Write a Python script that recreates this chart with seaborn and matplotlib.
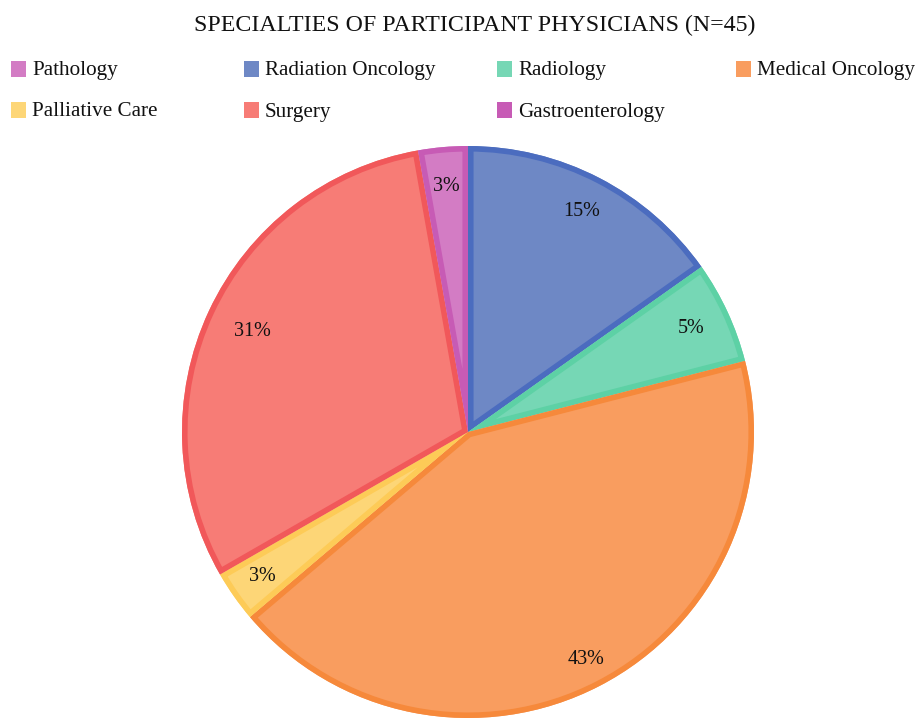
import matplotlib
matplotlib.use("Agg")
import matplotlib.pyplot as plt
import matplotlib.patches as mpatches
import seaborn as sns

sns.set_theme(style="white")
plt.rcParams['font.family'] = ['Liberation Serif', 'DejaVu Serif']

title = "SPECIALTIES OF PARTICIPANT PHYSICIANS (N=45)"
legend_names = ["Pathology", "Radiation Oncology", "Radiology", "Medical Oncology",
                "Palliative Care", "Surgery", "Gastroenterology"]
legend_fills = ["#D37CC4", "#6E88C5", "#76D7B5", "#F99D5F", "#FDD677", "#F77C76", "#C75BB5"]

# pie slices, clockwise from top (shares)
slice_names = ["Radiation Oncology", "Radiology", "Medical Oncology",
               "Palliative Care", "Surgery", "Pathology"]
slice_values = [15.2, 5.8, 42.8, 2.9, 30.5, 2.8]
slice_labels = ["15%", "5%", "43%", "3%", "31%", "3%"]
slice_fills = ["#6E88C5", "#76D7B5", "#F99D5F", "#FDD677", "#F77C76", "#D37CC4"]
slice_edges = ["#4B6CBF", "#5DD1A5", "#F6893B", "#FDCB57", "#F1585A", "#C75BB5"]
label_dist = [0.867, 0.86, 0.895, 0.88, 0.83, 0.86]

W, H = 920, 718
fig = plt.figure(figsize=(W / 100, H / 100), dpi=100)

cx, cy, R = 468, 432, 286
ax = fig.add_axes([(cx - R) / W, (H - cy - R) / H, 2 * R / W, 2 * R / H])
# filled slices
wedges, texts = ax.pie(
    slice_values, colors=slice_fills, startangle=90, counterclock=False,
    labels=slice_labels, labeldistance=1.0, radius=1,
    wedgeprops=dict(linewidth=0, edgecolor='none'),
    textprops=dict(fontsize=14.5, color="#111111", ha='center', va='center'))
# borders drawn inside each slice (clipped to the slice)
borders, _ = ax.pie(
    slice_values, startangle=90, counterclock=False, radius=1,
    wedgeprops=dict(linewidth=8, facecolor='none'))
for fw, bw, ec in zip(wedges, borders, slice_edges):
    bw.set_edgecolor(ec)
    bw.set_facecolor('none')
    bw.set_joinstyle('miter')
    clip = mpatches.Wedge(fw.center, fw.r, fw.theta1, fw.theta2, transform=ax.transData)
    bw.set_clip_on(True)
    bw.set_clip_path(clip)
for t, d in zip(texts, label_dist):
    x, y = t.get_position()
    t.set_position((x * d, y * d))
    t.set_horizontalalignment('center')
    t.set_verticalalignment('center')
    t.set_zorder(5)
ax.set_xlim(-1, 1)
ax.set_ylim(-1, 1)
ax.set_aspect('equal')
ax.axis('off')

fig.text(475 / W, 1 - 31 / H, title, ha='center', va='baseline', fontsize=17.2, color="#111111")

xs = [11, 244, 497, 736]
ys = [69, 110]
for i, (name, col) in enumerate(zip(legend_names, legend_fills)):
    r, c = divmod(i, 4)
    x0, y0 = xs[c], ys[r]
    fig.patches.append(mpatches.Rectangle((x0 / W, (H - y0 - 7.5) / H), 15 / W, 15 / H,
                                          transform=fig.transFigure, facecolor=col,
                                          edgecolor='none', figure=fig))
    fig.text((x0 + 21) / W, 1 - (y0 + 6.5) / H, name, ha='left', va='baseline',
             fontsize=15.2, color="#111111")

fig.savefig("out.png", dpi=100, facecolor='white')
